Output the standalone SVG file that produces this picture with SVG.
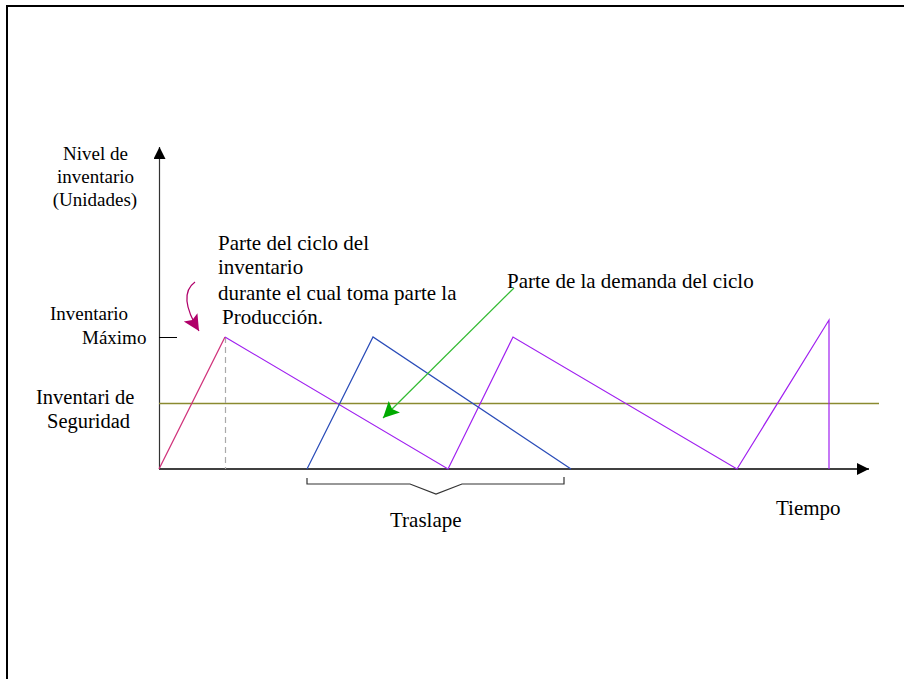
<svg xmlns="http://www.w3.org/2000/svg" width="904" height="679" viewBox="0 0 904 679">
<style>
text{font-family:'Liberation Serif','Times New Roman',serif;fill:#000}
.s19{font-size:19px}
.s20{font-size:20.5px}
.s21{font-size:21px}
.ln{fill:none;stroke-width:1.2}
</style>
<defs>
<marker id="ah" viewBox="0 0 10 10" refX="10" refY="5" markerWidth="16" markerHeight="12" markerUnits="userSpaceOnUse" orient="auto"><path d="M0,0 L10,5 L0,10 z" fill="#000"/></marker>
<marker id="ag" viewBox="0 0 10 10" refX="10" refY="5" markerWidth="22" markerHeight="16" markerUnits="userSpaceOnUse" orient="auto"><path d="M0,0 L10,5 L0,10 L2,5 z" fill="#00aa00"/></marker>
<marker id="am" viewBox="0 0 10 10" refX="10" refY="5" markerWidth="22" markerHeight="16" markerUnits="userSpaceOnUse" orient="auto"><path d="M0,0 L10,5 L0,10 L2,5 z" fill="#b0006a"/></marker>
</defs>
<rect x="0" y="0" width="904" height="679" fill="#fff"/>
<path d="M7,679 V6 H904" fill="none" stroke="#000" stroke-width="2"/>
<g id="connectors">
<line x1="159.5" y1="469" x2="159.5" y2="147" stroke="#333" stroke-width="1.2" marker-end="url(#ah)"/>
<line x1="159" y1="469" x2="869" y2="469" stroke="#000" stroke-width="1.5" marker-end="url(#ah)"/>
<line x1="159" y1="337.5" x2="177" y2="337.5" stroke="#000" stroke-width="1"/>
<line x1="159" y1="403.5" x2="879" y2="403.5" stroke="#8a8a30" stroke-width="1.5"/>
<line x1="225.5" y1="337" x2="225.5" y2="469" stroke="#aaa" stroke-width="1.2" stroke-dasharray="6,4"/>
<polyline class="ln" stroke="#d0307a" points="159,469 225,337"/>
<polyline class="ln" stroke="#a020f0" points="225,337 448,469 513,337 737,469 829,320 829,469"/>
<polyline class="ln" stroke="#2a4cb8" points="307,469 373,337 571,469"/>
<line x1="514" y1="288" x2="383" y2="418" stroke="#33bb33" stroke-width="1.2" marker-end="url(#ag)"/>
<path d="M195,282 C184,290 183,305 199,331" fill="none" stroke="#b0006a" stroke-width="1.2" marker-end="url(#am)"/>
<polyline fill="none" stroke="#333" stroke-width="1.2" points="307,478 307,484 410,484 436,494 462,484 564,484 564,477"/>
</g>
<g id="label-y">
<text class="s19" text-anchor="middle" x="95.5" y="160">Nivel de</text>
<text class="s19" text-anchor="middle" x="95.5" y="183">inventario</text>
<text class="s19" text-anchor="middle" x="95" y="206">(Unidades)</text>
</g>
<g id="label-produccion">
<text class="s21" x="218" y="250">Parte del ciclo del</text>
<text class="s21" x="218" y="274">inventario</text>
<text class="s21" x="218" y="300">durante el cual toma parte la</text>
<text class="s21" x="222" y="324">Producción.</text>
</g>
<g id="label-max">
<text class="s19" x="50" y="320">Inventario</text>
<text class="s19" x="82" y="344">Máximo</text>
</g>
<g id="label-seguridad">
<text class="s20" x="36" y="404">Inventari de</text>
<text class="s20" x="47" y="428">Seguridad</text>
</g>
<g id="label-demanda">
<text class="s21" x="507" y="288">Parte de la demanda del ciclo</text>
</g>
<g id="label-traslape">
<text class="s21" x="390" y="527">Traslape</text>
</g>
<g id="label-tiempo">
<text class="s21" x="776" y="515">Tiempo</text>
</g>
</svg>
